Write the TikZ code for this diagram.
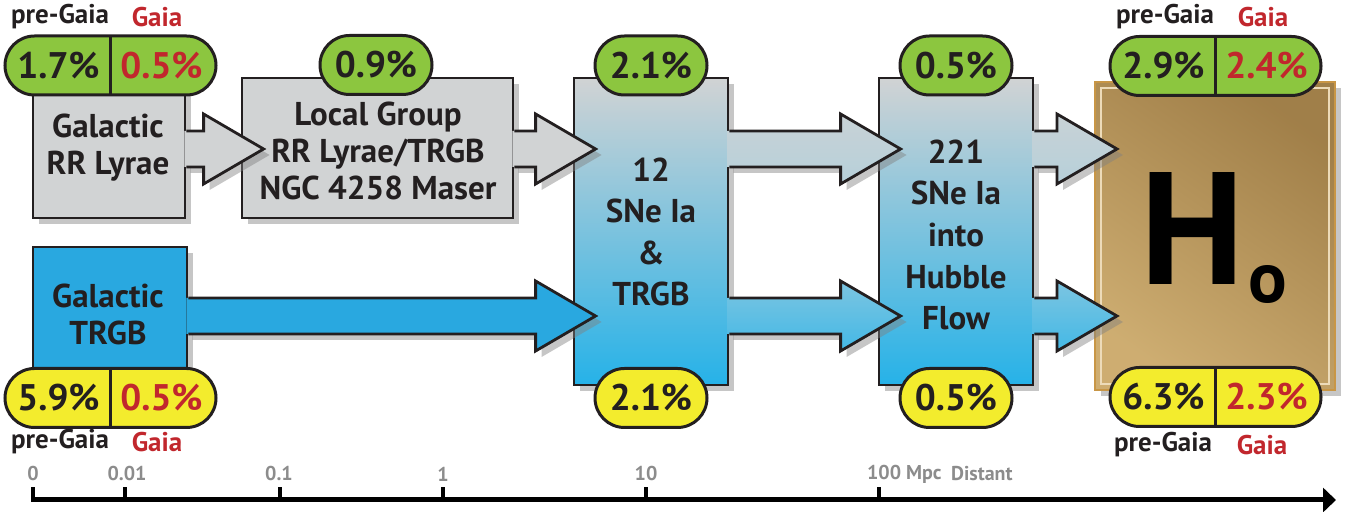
\documentclass[tikz,border=0pt]{standalone}
\usepackage{fontspec}
\setmainfont{PT Sans}
\usepackage{tikz}
\usetikzlibrary{positioning, calc, shadows, shapes.misc, arrows.meta}
\definecolor{inkBlack}{RGB}{35,31,32}
\definecolor{boxGray}{RGB}{209,211,212}
\definecolor{trgbBlue}{RGB}{41,168,224}
\definecolor{skyBlue}{RGB}{38,178,232}
\definecolor{midTone}{RGB}{165,206,222}
\definecolor{pillGreen}{RGB}{140,198,63}
\definecolor{pillYellow}{RGB}{243,236,45}
\definecolor{gaiaRed}{RGB}{193,39,45}
\definecolor{axisGray}{RGB}{140,140,140}
\definecolor{goldLight}{RGB}{222,190,128}
\definecolor{goldDark}{RGB}{140,106,54}
\definecolor{goldEdge}{RGB}{200,150,70}
\tikzstyle{pixels} = [x = .5pt, y = -.5pt]
\tikzstyle{shadowStyle} = [drop shadow = {shadow xshift = 3pt, shadow yshift = -3pt, opacity = .45}]
\tikzstyle{boxStyle} = [draw = inkBlack, line width = 1.4pt, shadowStyle, inner sep = 0pt]
\tikzstyle{boxText} = [align = center, text = inkBlack, font = \fontsize{16.5}{18.5}\selectfont\bfseries]
\tikzstyle{tallText} = [boxText, font = \fontsize{16.5}{20.8}\selectfont\bfseries]
\tikzstyle{arrowFill} = [shadowStyle]
\tikzstyle{arrowLine} = [draw = inkBlack, line width = 1.4pt, line join = miter]
\tikzstyle{pillStyle} = [rounded rectangle, draw = inkBlack, line width = 1.5pt, minimum height = 29.5pt, inner sep = 0pt, outer sep = 0pt]
\tikzstyle{pctText} = [text = inkBlack, font = \fontsize{18.5}{18.5}\selectfont\bfseries]
\tikzstyle{gaiaText} = [pctText, text = gaiaRed]
\tikzstyle{eraLabel} = [text = inkBlack, font = \fontsize{13.5}{13.5}\selectfont\bfseries]
\tikzstyle{eraGaia} = [eraLabel, text = gaiaRed]
\tikzstyle{axisText} = [text = axisGray, font = \fontsize{10}{10}\selectfont\bfseries]
\tikzstyle{axisLine} = [draw = black, line width = 2.5pt, -{Triangle[length = 6.5pt, width = 12pt]}]
\tikzstyle{tickLine} = [draw = black, line width = 2pt]
\tikzstyle{hText} = [text = black, font = \fontsize{80}{80}\selectfont\bfseries, anchor = base]
\tikzstyle{hSubText} = [text = black, font = \fontsize{36}{36}\selectfont\bfseries, anchor = base]
\newcommand{\stepBox}[6]{\node [boxStyle, #6, minimum width = (#4 - #2) * .5pt, minimum height = (#5 - #3) * .5pt] (#1) at ({(#2 + #4) / 2}, {(#3 + #5) / 2}) {};}
\newcommand{\blockArrow}[4]{
  \coordinate (tail) at (#1.east |- 0,#3);
  \coordinate (tip) at ($(#2.west |- 0,#3) + (23,0)$);
  \path [arrowFill, #4] ($(tail) + (-2,-18)$) -- ($(tip) + (-60,-18)$) -- ($(tip) + (-60,-35)$) -- (tip) -- ($(tip) + (-60,35)$) -- ($(tip) + (-60,18)$) -- ($(tail) + (-2,18)$) -- cycle;
  \draw [arrowLine] ($(tail) + (0,-18)$) -- ($(tip) + (-60,-18)$) -- ($(tip) + (-60,-35)$) -- (tip) -- ($(tip) + (-60,35)$) -- ($(tip) + (-60,18)$) -- ($(tail) + (0,18)$);
}
\newcommand{\singlePill}[4]{\node [pillStyle, pctText, fill = #4, minimum width = 56pt] (#1) at (#2) {#3};}
\newcommand{\doublePill}[5]{
  \node [pillStyle, fill = #5, minimum width = 105.5pt] (#1) at (#2) {};
  \draw [line width = 1.5pt, draw = inkBlack] (#1.north) -- (#1.south);
  \node [pctText] (#1Pre) at ([xshift = -26pt] #1.center) {#3};
  \node [gaiaText] (#1Gaia) at ([xshift = 25.5pt] #1.center) {#4};
}

\begin{document}
\begin{tikzpicture}[pixels]
  \useasboundingbox (0,0) rectangle (1345,512);
  % steps of the ladder
  \stepBox{rrLyrae}{33}{88}{185}{218}{fill = boxGray}
  \stepBox{localGroup}{242}{78}{513}{218}{fill = boxGray}
  \stepBox{galTRGB}{33}{247}{187}{378}{fill = trgbBlue}
  \stepBox{sneBox}{574}{78}{728}{385}{top color = boxGray, middle color = midTone, bottom color = skyBlue}
  \stepBox{hubbleBox}{879}{78}{1033}{385}{top color = boxGray, middle color = midTone, bottom color = skyBlue}
  \stepBox{hNought}{1095}{82}{1335}{390}{draw = goldEdge, line width = 1pt, top color = goldDark!75!goldLight, middle color = goldLight, bottom color = goldLight!80!goldDark, shading angle = -35}
  \draw [goldLight!55!white, line width = .8pt] ($(hNought.north west) + (7,7)$) rectangle ($(hNought.south east) + (-7,-7)$);

  % block arrows
  \blockArrow{rrLyrae}{localGroup}{149}{fill = boxGray}
  \blockArrow{localGroup}{sneBox}{149}{fill = boxGray}
  \blockArrow{galTRGB}{sneBox}{316}{fill = trgbBlue}
  \blockArrow{sneBox}{hubbleBox}{149}{top color = midTone!20!boxGray, bottom color = midTone!60!boxGray}
  \blockArrow{sneBox}{hubbleBox}{316}{top color = skyBlue!32!midTone, bottom color = skyBlue!77!midTone}
  \blockArrow{hubbleBox}{hNought}{149}{top color = midTone!20!boxGray, bottom color = midTone!60!boxGray}
  \blockArrow{hubbleBox}{hNought}{316}{top color = skyBlue!32!midTone, bottom color = skyBlue!77!midTone}

  \node [boxText] (rrLyraeText) at (108,148) {Galactic\\RR Lyrae};
  \node [boxText] (localGroupText) at (378,151) {Local Group\\RR Lyrae/TRGB\\NGC 4258 Maser};
  \node [boxText] (galTRGBText) at (108,314) {Galactic\\TRGB};
  \node [tallText] (sneText) at (651,232) {12\\SNe Ia\\\&\\TRGB};
  \node [tallText] (hubbleText) at (956,235) {221\\SNe Ia\\into\\Hubble\\Flow};
  \node [hText] (hLetter) at (1193,285) {H};
  \node [hSubText] (hSub) at (1268,303) {o};

  % error budgets
  \doublePill{rrPill}{110.5,65.5}{1.7\%}{0.5\%}{pillGreen}
  \singlePill{localPill}{376,65}{0.9\%}{pillGreen}
  \singlePill{snePillTop}{651,65.5}{2.1\%}{pillGreen}
  \singlePill{hubblePillTop}{956,65.5}{0.5\%}{pillGreen}
  \doublePill{hPillTop}{1215.5,66}{2.9\%}{2.4\%}{pillGreen}
  \doublePill{trgbPill}{110.5,398}{5.9\%}{0.5\%}{pillYellow}
  \singlePill{snePillBottom}{651,398}{2.1\%}{pillYellow}
  \singlePill{hubblePillBottom}{956,398}{0.5\%}{pillYellow}
  \doublePill{hPillBottom}{1215.5,397}{6.3\%}{2.3\%}{pillYellow}

  \node [eraLabel] (rrPreLabel) at (60,17) {pre-Gaia};
  \node [eraGaia] (rrGaiaLabel) at (157,17) {Gaia};
  \node [eraLabel] (hTopPreLabel) at (1165,17) {pre-Gaia};
  \node [eraGaia] (hTopGaiaLabel) at (1263,17) {Gaia};
  \node [eraLabel] (trgbPreLabel) at (60,442) {pre-Gaia};
  \node [eraGaia] (trgbGaiaLabel) at (157,442) {Gaia};
  \node [eraLabel] (hBottomPreLabel) at (1163,445) {pre-Gaia};
  \node [eraGaia] (hBottomGaiaLabel) at (1262,445) {Gaia};

  % distance axis
  \coordinate (axisStart) at (31,500);
  \coordinate (axisEnd) at (1336,500);
  \draw [axisLine] (axisStart) -- (axisEnd);
  \foreach \tickX in {33, 125, 280, 443, 646, 879} {
    \draw [tickLine] (\tickX,500) -- (\tickX,487);
  }
  \foreach \tickX/\tickName in {33/0, 127/0.01, 279/0.1, 443/1, 646/10} {
    \node [axisText] (tick\tickX) at (\tickX,474) {\tickName};
  }
  \node [axisText, anchor = west] (tickMpc) at (860,474) {100 Mpc};
  \node [axisText, anchor = west] (distantText) at (944,474) {Distant};
\end{tikzpicture}
\end{document}
